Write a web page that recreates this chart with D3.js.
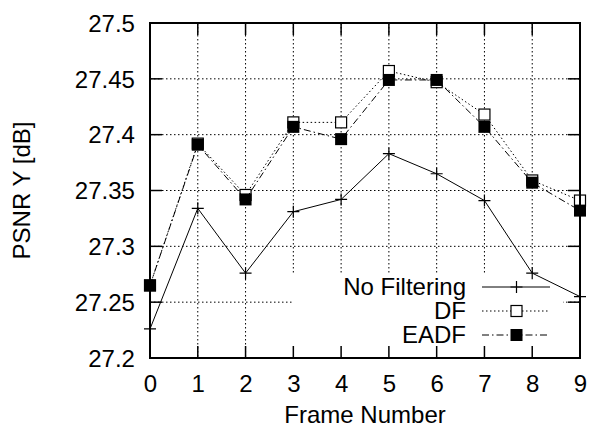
<!DOCTYPE html>
<html><head><meta charset="utf-8">
<script src="https://cdn.jsdelivr.net/npm/d3@7"></script>
<style>body{margin:0;background:#fff}svg text{font-family:"Liberation Sans",Arial,Helvetica,sans-serif;fill:#000}</style>
</head><body><svg id="c" width="591" height="428"></svg>
<script>
const frames = [0,1,2,3,4,5,6,7,8,9];
const noFiltering = [27.226,27.334,27.276,27.331,27.342,27.383,27.365,27.341,27.276,27.255];
const dfValues = [27.265,27.392,27.346,27.411,27.411,27.457,27.447,27.418,27.359,27.341];
const eadfValues = [27.265,27.391,27.342,27.407,27.396,27.449,27.449,27.407,27.357,27.332];
const yTicks = [27.2,27.25,27.3,27.35,27.4,27.45,27.5];
const yTickLabels = ["27.2","27.25","27.3","27.35","27.4","27.45","27.5"];
const seriesNames = ["No Filtering","DF","EADF"];

const svg = d3.select("#c");
const L=150,R=580,T=23,B=358;
const x = d3.scaleLinear().domain([0,9]).range([L,R]);
const y = d3.scaleLinear().domain([27.2,27.5]).range([B,T]);
const fs = 23, sx = 1.045;

// grid
const g = svg.append("g");
frames.forEach(f=>{ if(f>0&&f<9) g.append("line").attr("x1",x(f)).attr("x2",x(f)).attr("y1",T).attr("y2",B)
  .attr("stroke","#000").attr("stroke-width",1).attr("stroke-dasharray","1.5,2.5");});
yTicks.forEach(v=>{ if(v>27.2&&v<27.5) g.append("line").attr("x1",L).attr("x2",R).attr("y1",y(v)).attr("y2",y(v))
  .attr("stroke","#000").attr("stroke-width",1).attr("stroke-dasharray","1.5,2.5");});

// key box (opaque)
svg.append("rect").attr("x",292).attr("y",273).attr("width",563-292).attr("height",B-273).attr("fill","#fff");

const styles = [
  {data:noFiltering, dash:null, marker:"plus"},
  {data:dfValues, dash:"1.5,2.5", marker:"open"},
  {data:eadfValues, dash:"7,3,1.5,3", marker:"filled"}
];
const line = d3.line().x((d,i)=>x(frames[i])).y(d=>y(d));
function marker(sel,cx,cy,type){
  if(type==="plus"){
    sel.append("path").attr("d",`M${cx-6},${cy}H${cx+6}M${cx},${cy-6}V${cy+6}`).attr("stroke","#000").attr("stroke-width",1.2).attr("fill","none");
  } else if(type==="open"){
    sel.append("rect").attr("x",cx-5.5).attr("y",cy-5.5).attr("width",11).attr("height",11).attr("fill","#fff").attr("stroke","#000").attr("stroke-width",1.2);
  } else {
    sel.append("rect").attr("x",cx-6).attr("y",cy-6).attr("width",12).attr("height",12).attr("fill","#000");
  }
}
styles.forEach(s=>{
  const gg = svg.append("g");
  gg.append("path").attr("d",line(s.data)).attr("fill","none").attr("stroke","#000").attr("stroke-width",1)
    .attr("stroke-dasharray",s.dash);
  s.data.forEach((v,i)=>marker(gg,x(frames[i]),y(v),s.marker));
});

function label(sel,tx,ty,txt,anchor,rot){
  return sel.append("text").attr("transform",`translate(${tx},${ty})${rot?` rotate(${rot})`:""} scale(${sx},1)`)
    .attr("text-anchor",anchor).attr("font-size",fs).text(txt);
}

// legend
const legY=[287,311,335];
styles.forEach((s,i)=>{
  label(svg,466,legY[i]+8.3,seriesNames[i],"end");
  svg.append("line").attr("x1",482).attr("x2",550).attr("y1",legY[i]).attr("y2",legY[i]).attr("stroke","#000").attr("stroke-width",1).attr("stroke-dasharray",s.dash);
  marker(svg,516.5,legY[i],s.marker);
});

// border
svg.append("rect").attr("x",L).attr("y",T).attr("width",R-L).attr("height",B-T).attr("fill","none").attr("stroke","#000").attr("stroke-width",2);

// axes
const xAxisB = d3.axisBottom(x).tickValues(frames).tickSize(0).tickPadding(0).tickFormat(d3.format("d"));
const yAxisL = d3.axisLeft(y).tickValues(yTicks).tickSize(0).tickFormat((d,i)=>yTickLabels[i]);
const ax = svg.append("g").attr("transform",`translate(0,${B})`).call(xAxisB);
ax.select(".domain").remove();
ax.attr("font-family",null).attr("font-size",null);
ax.selectAll("text").attr("font-size",fs).attr("y",0).attr("dy",0).attr("transform",`translate(0,33.5) scale(${sx},1)`).attr("fill","#000");
const ay = svg.append("g").attr("transform",`translate(${L},0)`).call(yAxisL);
ay.select(".domain").remove();
ay.attr("font-family",null).attr("font-size",null);
ay.selectAll("text").attr("font-size",fs).attr("x",0).attr("dy",0).attr("transform",`translate(-15,8.3) scale(${sx},1)`).attr("fill","#000");

// tick marks (inward, mirrored)
const tk = svg.append("g").attr("stroke","#000").attr("stroke-width",1.5);
frames.forEach(f=>{
  tk.append("line").attr("x1",x(f)).attr("x2",x(f)).attr("y1",B).attr("y2",B-12);
  tk.append("line").attr("x1",x(f)).attr("x2",x(f)).attr("y1",T).attr("y2",T+12);
});
yTicks.forEach(v=>{
  tk.append("line").attr("x1",L).attr("x2",L+12).attr("y1",y(v)).attr("y2",y(v));
  tk.append("line").attr("x1",R).attr("x2",R-12).attr("y1",y(v)).attr("y2",y(v));
});

// axis titles
label(svg,365,423,"Frame Number","middle");
label(svg,30,190.5,"PSNR Y [dB]","middle",-90);
</script></body></html>
